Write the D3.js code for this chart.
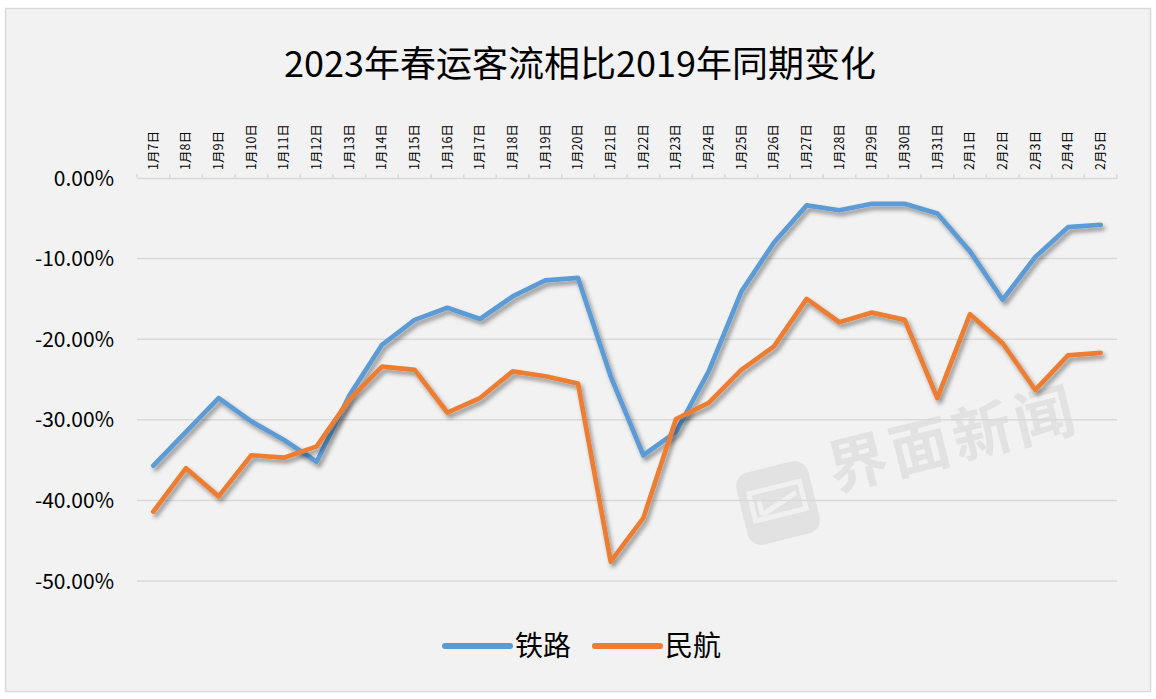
<!DOCTYPE html>
<html><head><meta charset="utf-8">
<script src="https://cdn.jsdelivr.net/npm/d3@7"></script>
<style>
html,body{margin:0;padding:0;background:#fff;}
svg{display:block;font-family:"Noto Sans CJK SC","Noto Sans",sans-serif;}
</style></head>
<body>
<svg id="c" width="1156" height="699"></svg>
<script>
const categories = ["1月7日","1月8日","1月9日","1月10日","1月11日","1月12日","1月13日","1月14日","1月15日","1月16日","1月17日","1月18日","1月19日","1月20日","1月21日","1月22日","1月23日","1月24日","1月25日","1月26日","1月27日","1月28日","1月29日","1月30日","1月31日","2月1日","2月2日","2月3日","2月4日","2月5日"];
const railway = [-35.7,-31.5,-27.3,-30.2,-32.5,-35.2,-27.0,-20.7,-17.6,-16.1,-17.5,-14.7,-12.7,-12.4,-24.6,-34.4,-31.5,-24.0,-14.1,-8.0,-3.4,-4.0,-3.2,-3.2,-4.4,-9.1,-15.1,-9.8,-6.1,-5.8];
const aviation = [-41.4,-36.0,-39.5,-34.4,-34.7,-33.3,-27.5,-23.4,-23.8,-29.1,-27.3,-24.0,-24.6,-25.5,-47.6,-42.2,-29.9,-27.9,-23.8,-20.9,-15.0,-17.9,-16.7,-17.6,-27.3,-16.9,-20.5,-26.3,-22.0,-21.7];
const yTicks = [0,-10,-20,-30,-40,-50];
const seriesNames = ["铁路","民航"];
const colors = ["#5b9bd5","#ed7d31"];
const title = "2023年春运客流相比2019年同期变化";

const svg = d3.select("#c");
const pL = 137, pR = 1117, pT = 178, pB = 581;

// frame
svg.append("rect").attr("x",5.5).attr("y",8.5).attr("width",1145).attr("height",683)
  .attr("fill","#f2f2f2").attr("stroke","#d9d9d9").attr("stroke-width",1.5);

const defs = svg.append("defs");
const f = defs.append("filter").attr("id","sh").attr("x","-10%").attr("y","-10%").attr("width","120%").attr("height","130%");
f.append("feDropShadow").attr("dx",2.5).attr("dy",3.5).attr("stdDeviation",2.2)
  .attr("flood-color","#000").attr("flood-opacity",0.4);

// title
svg.append("text").attr("x",580).attr("y",77).attr("text-anchor","middle")
  .attr("font-size",36).attr("fill","#000").text(title);

const x = d3.scaleBand().domain(categories).range([pL,pR]);
const y = d3.scaleLinear().domain([0,-50]).range([pT,pB]);

// watermark
const wm = svg.append("g");
const lg = wm.append("g").attr("transform","translate(778,503) rotate(-14)");
lg.append("rect").attr("x",-37).attr("y",-37).attr("width",74).attr("height",74).attr("rx",14).attr("fill","#e2e2e2");
lg.append("path").attr("d","M-26,-16 L26,-16 L26,12 L-26,12 Z M-18,-8 L-18,8 M-18,8 L20,-6")
  .attr("fill","none").attr("stroke","#f0f0f0").attr("stroke-width",5);
wm.append("text").attr("transform","translate(958,460) rotate(-14)").attr("text-anchor","middle")
  .attr("font-size",60).attr("font-weight","bold").attr("fill","#e2e2e2").attr("letter-spacing",4).text("界面新闻");

// gridlines
svg.append("g").selectAll("line").data(yTicks.slice(1)).join("line")
  .attr("x1",pL).attr("x2",pR).attr("y1",d=>y(d)).attr("y2",d=>y(d))
  .attr("stroke","#d9d9d9").attr("stroke-width",1.5);

// top axis
const ax = svg.append("g").attr("transform",`translate(0,${pT})`)
  .call(d3.axisTop(x).tickSize(0).tickFormat(""));
ax.select(".domain").attr("stroke","#d9d9d9").attr("stroke-width",1.5);
const bounds = categories.map(c=>x(c)).concat([pR]);
svg.append("g").selectAll("line").data(bounds).join("line")
  .attr("x1",d=>d).attr("x2",d=>d).attr("y1",pT).attr("y2",pT-4)
  .attr("stroke","#d9d9d9").attr("stroke-width",1.5);
svg.append("g").selectAll("text").data(categories).join("text")
  .attr("transform",d=>`translate(${x(d)+x.bandwidth()/2},170) rotate(-90)`)
  .attr("dy","0.35em").attr("text-anchor","start").attr("font-size",12.5).attr("fill","#000")
  .text(d=>d);

// y labels
svg.append("g").selectAll("text").data(yTicks).join("text")
  .attr("x",114).attr("y",d=>y(d)).attr("dy","0.36em").attr("text-anchor","end")
  .attr("font-size",21).attr("fill","#000")
  .text(d=>d.toFixed(2)+"%");

// lines
const line = d3.line().x((d,i)=>x(categories[i])+x.bandwidth()/2).y(d=>y(d));
[railway,aviation].forEach((s,k)=>{
  svg.append("path").datum(s).attr("d",line).attr("fill","none")
    .attr("stroke",colors[k]).attr("stroke-width",4.7)
    .attr("stroke-linejoin","round").attr("stroke-linecap","round")
    .attr("filter","url(#sh)");
});

// legend
const legX = [445,595];
seriesNames.forEach((n,k)=>{
  svg.append("line").attr("x1",legX[k]).attr("x2",legX[k]+65).attr("y1",646).attr("y2",646)
    .attr("stroke",colors[k]).attr("stroke-width",6).attr("stroke-linecap","round");
  svg.append("text").attr("x",legX[k]+70).attr("y",656).attr("font-size",28).attr("fill","#000").text(n);
});
</script>
</body></html>
